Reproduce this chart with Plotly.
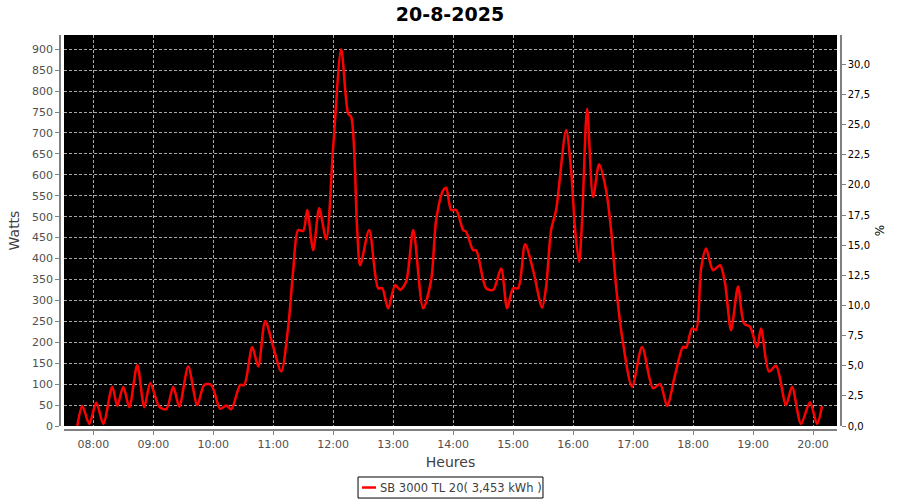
import plotly.graph_objects as go

day = "2025-08-20"
title_text = "20-8-2025"
legend_name = "SB 3000 TL 20( 3,453 kWh )"

times = ["07:44", "07:49", "07:56", "08:03", "08:10", "08:19", "08:24", "08:30", "08:36", "08:44",
         "08:51", "08:57", "09:06", "09:13", "09:20", "09:26", "09:35", "09:44", "09:51", "09:58",
         "10:07", "10:13", "10:18", "10:27", "10:31", "10:39", "10:45", "10:52", "11:00", "11:08",
         "11:15", "11:20", "11:25", "11:30", "11:34", "11:40", "11:46", "11:53", "12:00", "12:08",
         "12:15", "12:18", "12:24", "12:27", "12:36", "12:45", "12:49", "12:55", "13:02", "13:07",
         "13:13", "13:20", "13:30", "13:38", "13:43", "13:50", "13:53", "13:58", "14:03", "14:10",
         "14:13", "14:20", "14:23", "14:33", "14:40", "14:48", "14:54", "15:00", "15:05", "15:12",
         "15:20", "15:29", "15:33", "15:38", "15:43", "15:53", "15:58", "16:02", "16:06", "16:09",
         "16:14", "16:20", "16:26", "16:33", "16:38", "16:43", "16:49", "16:59", "17:09", "17:20",
         "17:27", "17:34", "17:42", "17:50", "17:53", "17:59", "18:03", "18:08", "18:13", "18:20",
         "18:27", "18:32", "18:38", "18:45", "18:51", "18:57", "19:04", "19:08", "19:16", "19:23",
         "19:33", "19:39", "19:48", "19:57", "20:04", "20:09"]

watts = [0, 48, 5, 56, 5, 94, 48, 94, 45, 146,
         45, 103, 46, 40, 94, 46, 142, 50, 98, 98,
         41, 49, 40, 98, 98, 189, 142, 251, 189, 130,
         237, 372, 468, 466, 516, 420, 520, 446, 667, 900,
         746, 738, 468, 384, 468, 329, 329, 281, 337, 325,
         345, 468, 281, 349, 492, 563, 569, 516, 516, 468,
         464, 420, 420, 329, 325, 376, 281, 329, 329, 434,
         372, 283, 333, 468, 516, 707, 611, 468, 392, 492,
         758, 547, 625, 563, 468, 333, 213, 94, 189, 90,
         100, 48, 122, 189, 187, 233, 229, 376, 424, 372,
         384, 341, 229, 333, 245, 237, 188, 233, 130, 144,
         50, 94, 5, 57, 5, 48]

pct_ticks = [0, 2.5, 5, 7.5, 10, 12.5, 15, 17.5, 20, 22.5, 25, 27.5, 30]

line_color = "#ff0000"
x = [f"{day} {t}" for t in times]

fig = go.Figure()
fig.add_trace(go.Scatter(
    x=x, y=watts, mode="lines", name=legend_name, showlegend=False,
    line=dict(color=line_color, width=2.5, shape="spline", smoothing=0.8),
))
fig.add_trace(go.Scatter(
    x=[x[0]], y=[0], yaxis="y2", mode="lines", showlegend=False,
    hoverinfo="skip", opacity=0,
))

font = "DejaVu Sans"
grid = dict(showgrid=True, gridcolor="#a8a8a8", gridwidth=1, griddash="3px,2px")

# legend box drawn below the plot (paper coordinates)
fig.add_shape(type="rect", xref="paper", yref="paper",
              x0=0.3816, x1=0.6184, y0=-0.1722, y1=-0.1190,
              line=dict(color="black", width=1), fillcolor="white")
fig.add_shape(type="line", xref="paper", yref="paper",
              x0=0.3867, x1=0.4046, y0=-0.1456, y1=-0.1456,
              line=dict(color=line_color, width=2.5))
fig.add_annotation(text=legend_name, xref="paper", yref="paper",
                   x=0.4072, y=-0.1456, xanchor="left", yanchor="middle",
                   showarrow=False, font=dict(family=font, size=11.5, color="#404040"))

fig.update_layout(
    width=900, height=500,
    margin=dict(l=60, r=59, t=35, b=70, autoexpand=False),
    paper_bgcolor="white", plot_bgcolor="black",
    separators=", ",
    font=dict(family=font, color="#505050"),
    title=dict(text=f"<b>{title_text}</b>", x=0.5, xanchor="center", y=1 - 14 / 500,
               yanchor="middle", yref="container",
               font=dict(family=font, size=19, color="black")),
    xaxis=dict(
        type="date", domain=[4 / 781, 777 / 781], anchor="free", position=0,
        range=[f"{day} 07:30:42", f"{day} 20:24:00"],
        dtick=3600000, tick0=f"{day} 08:00", tickformat="%H:%M",
        ticks="outside", ticklen=4, tickcolor="#808080",
        showline=True, linecolor="#808080", linewidth=1.5,
        tickfont=dict(size=11, color="#505050"), automargin=False,
        title=dict(text="Heures", font=dict(size=14, color="#404040"), standoff=6),
        zeroline=False, **grid,
    ),
    yaxis=dict(
        domain=[4 / 395, 1], anchor="free", position=0,
        range=[0, 934], dtick=50, tick0=0,
        ticks="outside", ticklen=4, tickcolor="#808080",
        showline=True, linecolor="#808080", linewidth=1.5,
        tickfont=dict(size=11, color="#505050"), automargin=False,
        title=dict(text="Watts", font=dict(size=14, color="#404040"), standoff=8),
        zeroline=False, **grid,
    ),
    yaxis2=dict(
        overlaying="y", side="right", anchor="free", position=1,
        range=[0, 32.43], tickvals=pct_ticks, tickformat=".1f",
        ticks="outside", ticklen=4, tickcolor="#808080",
        showline=True, linecolor="#808080", linewidth=1.5,
        tickfont=dict(size=10, color="black"), automargin=False,
        title=dict(text="%", font=dict(size=12, color="black"), standoff=6),
        showgrid=False, zeroline=False,
    ),
    showlegend=False,
)

fig.write_html("out.html", config={"displayModeBar": False},
               post_script="document.body.style.margin='0';")
